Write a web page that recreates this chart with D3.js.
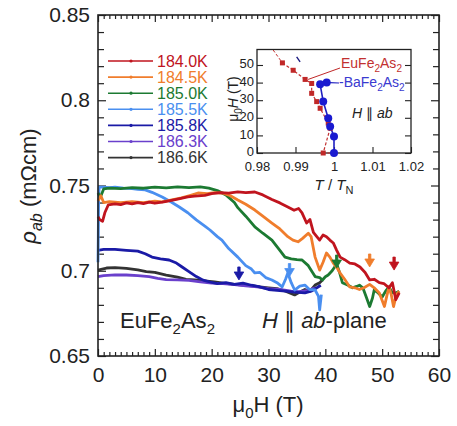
<!DOCTYPE html>
<html>
<head>
<meta charset="utf-8">
<script src="https://cdn.jsdelivr.net/npm/d3@7"></script>
<style>
  body { margin: 0; background: #fff; }
  text { font-family: "Liberation Sans", Arial, sans-serif; fill: #222; }
</style>
</head>
<body>
<div id="chart"></div>
<script>
// temperatures (legend) and colours
const temps = ["184.0K", "184.5K", "185.0K", "185.5K", "185.8K", "186.3K", "186.6K"];
const colors = ["#c0141e", "#f07d2c", "#1c7a32", "#4a8ff0", "#1a1aa6", "#6a40cc", "#333333"];

// rho_ab (mOhm cm) vs mu0H (T)
const r184_0 = [[0,0.7317],[0.3,0.7300],[0.8,0.7290],[1.2,0.7340],[1.8,0.7386],[3,0.7392],[4,0.7388],[5,0.7398],[6,0.7392],[7,0.7400],[8,0.7394],[9,0.7402],[10,0.7396],[11.3,0.7402],[12.5,0.7410],[14,0.7420],[15.8,0.7433],[17,0.7438],[18.8,0.7442],[20,0.7452],[21.5,0.7458],[23,0.7455],[24.6,0.7462],[26,0.7458],[27.6,0.7462],[29,0.7445],[30.6,0.7418],[32,0.7398],[33.4,0.7374],[34.5,0.7355],[35.3,0.7365],[35.9,0.7339],[36.7,0.7280],[37.3,0.7300],[37.9,0.7225],[38.5,0.7200],[39,0.7180],[39.6,0.7210],[40.2,0.7200],[40.8,0.7180],[41.4,0.7163],[42,0.7120],[42.6,0.7080],[43.4,0.7065],[44.3,0.7045],[45.2,0.7040],[46.1,0.7022],[47,0.6990],[47.8,0.6946],[48.6,0.6950],[49.5,0.6930],[50.3,0.6925],[51.2,0.6900],[51.8,0.6930],[52.4,0.6830],[53,0.6870]];
const r184_5 = [[0,0.7410],[0.5,0.7440],[1,0.7400],[2,0.7405],[4,0.7400],[6,0.7405],[8,0.7400],[10,0.7408],[11.3,0.7404],[13,0.7415],[14.7,0.7427],[16,0.7440],[17.6,0.7456],[19.2,0.7452],[20.5,0.7458],[22,0.7455],[23.3,0.7440],[24.6,0.7415],[26,0.7390],[27.6,0.7356],[29,0.7320],[30.6,0.7280],[32,0.7245],[33.4,0.7200],[34.3,0.7180],[35.2,0.7170],[36,0.7190],[37,0.7220],[37.5,0.7200],[38.2,0.7080],[39,0.7004],[39.6,0.7050],[40.2,0.7104],[40.8,0.7080],[41.4,0.7045],[42,0.7020],[42.6,0.6987],[43.4,0.6950],[44.3,0.6905],[45.2,0.6900],[46,0.6890],[46.8,0.6900],[47.8,0.6920],[48.6,0.6900],[49.5,0.6870],[50.4,0.6790],[50.8,0.6850],[51.2,0.6905],[51.6,0.6860],[52,0.6790],[52.5,0.6860],[53,0.6880]];
const r185_0 = [[0,0.7456],[0.4,0.7430],[1,0.7480],[2,0.7485],[4,0.7482],[6,0.7488],[8,0.7484],[10,0.7490],[12,0.7486],[14,0.7492],[16,0.7488],[18,0.7492],[19.5,0.7485],[21,0.7470],[22.5,0.7445],[24,0.7400],[24.6,0.7370],[26,0.7320],[27.6,0.7257],[29,0.7220],[30.6,0.7180],[32,0.7120],[32.9,0.7080],[34,0.7070],[35,0.7065],[35.9,0.7063],[37,0.7030],[38.2,0.6966],[39,0.6960],[39.5,0.6946],[40,0.6965],[40.5,0.6975],[41.2,0.7000],[42,0.7040],[42.5,0.6990],[43,0.6930],[44,0.6915],[44.8,0.6900],[45.5,0.6908],[46,0.6915],[46.6,0.6900],[47.2,0.6846],[47.8,0.6790],[48.3,0.6840],[48.6,0.6887],[49.3,0.6870],[50,0.6846],[50.6,0.6880],[51.2,0.6905],[51.8,0.6870],[52.4,0.6870],[53,0.6880]];
const r185_5 = [[0,0.7050],[0.05,0.7200],[0.1,0.7400],[0.2,0.7490],[1,0.7490],[2,0.7488],[3,0.7490],[4.5,0.7485],[6,0.7482],[7,0.7478],[8.3,0.7474],[9.5,0.7460],[11.3,0.7433],[12.8,0.7405],[14.3,0.7374],[15.8,0.7340],[17.3,0.7298],[18.8,0.7262],[19.7,0.7239],[21,0.7200],[21.8,0.7180],[23,0.7130],[24.6,0.7080],[26,0.7030],[27,0.7010],[27.6,0.6987],[28.5,0.6990],[29.5,0.6960],[30.6,0.6946],[31.5,0.6930],[32.4,0.6905],[33,0.6950],[33.4,0.6987],[34,0.6930],[34.6,0.6887],[35.5,0.6910],[36.4,0.6916],[37.2,0.6890],[38.2,0.6887],[38.8,0.6850],[39,0.6770],[39.3,0.6860]];
const r185_8 = [[0,0.7120],[1,0.7125],[3,0.7125],[5,0.7120],[7,0.7115],[8.3,0.7100],[9.5,0.7080],[11,0.7070],[12.5,0.7063],[13.8,0.7045],[14.8,0.7022],[16,0.6995],[17.3,0.6966],[18.5,0.6945],[19.7,0.6934],[21,0.6925],[22.5,0.6930],[24,0.6920],[25.5,0.6928],[27,0.6915],[28.5,0.6905],[30,0.6890],[31.5,0.6885],[33,0.6880],[34.5,0.6875],[36.4,0.6870],[37.5,0.6880],[38.5,0.6900],[39.2,0.6915]];
const r186_3 = [[0,0.6966],[1,0.6972],[3,0.6976],[5,0.6975],[7,0.6972],[9,0.6965],[10.5,0.6955],[12,0.6948],[14,0.6946],[16,0.6943],[18,0.6935],[20,0.6928],[22,0.6925],[24,0.6918],[26,0.6912],[28,0.6905],[30,0.6895],[32,0.6890],[34,0.6880],[35.5,0.6878],[37,0.6885],[38.2,0.6900]];
const r186_6 = [[0,0.7004],[1.5,0.7016],[3,0.7018],[5,0.7014],[7,0.7005],[8.5,0.6995],[10,0.6990],[12,0.6975],[14,0.6962],[15.5,0.6950],[17,0.6946],[18.8,0.6940],[20.5,0.6935],[22,0.6928],[24,0.6920],[25.5,0.6916],[27,0.6912],[28.5,0.6905],[30,0.6900],[31.5,0.6895],[33,0.6880],[34.6,0.6858],[35.5,0.6875],[36.4,0.6890],[37.3,0.6880],[38.2,0.6916],[39,0.6930],[39.5,0.6946]];
const series = [r184_0, r184_5, r185_0, r185_5, r185_8, r186_3, r186_6];

// arrows marking the transition field (tip position)
const arrowH   = [52.1, 47.8, 42.0, 33.7, 24.8];
const arrowRho = [0.7004, 0.7022, 0.7016, 0.6966, 0.6946];
const arrowCol = [0, 1, 2, 3, 4];

// inset: phase boundary, T/T_N vs mu0H
const euT = [0.9866, 0.9894, 0.9925, 0.9942, 0.9942, 0.9955, 0.9964, 0.9985, 0.9990, 0.9972, 1.0];
const euH = [51.2, 47.0, 41.8, 39.5, 33.9, 29.2, 25.4, 17.0, 14.1, 0, 0];
const euTail = [[0.9842, 58.5], [0.9866, 51.2]];
const baT = [0.9981, 0.9964, 0.9972, 0.9985, 0.9990, 1.0, 1.0];
const baH = [40.0, 39.0, 29.2, 19.8, 15.0, 9.4, 0];
const baTop = [[0.9903, 54.6], [0.9912, 51.8]];

const W = 457, H = 426;
const svg = d3.select("#chart").append("svg").attr("width", W).attr("height", H);

const x = d3.scaleLinear().domain([0, 60]).range([98, 439]);
const y = d3.scaleLinear().domain([0.65, 0.85]).range([356, 15]);

// ticks, all pointing inward
function ticks(axis, pos, vals, size, labels, fmt, pad) {
  const g = svg.append("g").attr("transform", pos)
    .call(axis.tickValues(vals).tickSize(-size).tickPadding(pad || 8)
      .tickFormat(labels ? fmt : ""));
  g.select(".domain").remove();
  g.selectAll("line").attr("stroke", "#222").attr("stroke-width", 1.2);
  g.selectAll("text").style("font-size", "21px").attr("fill", "#222");
  return g;
}
const xMinor = d3.range(0, 61, 1).filter(d => d % 10);
const xMajor = d3.range(0, 61, 10);
const yMinor = d3.range(0, 21).map(i => 0.65 + i * 0.01).filter((d, i) => i % 5);
const yMajor = [0.65, 0.7, 0.75, 0.8, 0.85];

ticks(d3.axisBottom(x), "translate(0,356)", xMinor, 4, false);
ticks(d3.axisBottom(x), "translate(0,356)", xMajor, 7, true, d3.format("d"), 11);
ticks(d3.axisTop(x), "translate(0,15)", xMinor, 4, false);
ticks(d3.axisTop(x), "translate(0,15)", xMajor, 7, false);
ticks(d3.axisLeft(y), "translate(98,0)", yMinor, 6, false);
ticks(d3.axisLeft(y), "translate(98,0)", yMajor, 8, true, d => d === 0.7 || d === 0.8 ? d3.format(".1f")(d) : d3.format(".2f")(d));
ticks(d3.axisRight(y), "translate(439,0)", yMinor, 6, false);
ticks(d3.axisRight(y), "translate(439,0)", yMajor, 8, false);

// data curves
const line = d3.line().x(d => x(d[0])).y(d => y(d[1]));
const order = [6, 5, 4, 3, 2, 1, 0];
order.forEach(i => {
  svg.append("path").datum(series[i]).attr("d", line)
    .attr("fill", "none").attr("stroke", colors[i])
    .attr("stroke-width", 2.8).attr("stroke-linejoin", "round");
});

// arrows
arrowH.forEach((h, k) => {
  const px = x(h), py = y(arrowRho[k]);
  svg.append("path")
    .attr("d", `M${px - 1.2},${py - 13}h2.4v5h3.6l-4.8,8l-4.8,-8h3.6z`)
    .attr("fill", colors[arrowCol[k]]).attr("stroke", colors[arrowCol[k]]).attr("stroke-width", 0.8);
});

// frame
svg.append("rect").attr("x", 98).attr("y", 15).attr("width", 341).attr("height", 341)
  .attr("fill", "none").attr("stroke", "#222").attr("stroke-width", 1.6);

// legend
const leg = svg.append("g");
temps.forEach((t, i) => {
  const ly = 61 + i * 16.1;
  leg.append("line").attr("x1", 108).attr("x2", 153).attr("y1", ly).attr("y2", ly)
    .attr("stroke", colors[i]).attr("stroke-width", 1.6);
  leg.append("circle").attr("cx", 131).attr("cy", ly).attr("r", 1.6).attr("fill", colors[i]);
  leg.append("text").attr("x", 157).attr("y", ly).attr("dy", "0.36em")
    .style("font-size", "16px").style("fill", colors[i]).text(t);
});

// axis titles
const xt = svg.append("text").attr("x", 268).attr("y", 412).attr("text-anchor", "middle").style("font-size", "22px");
xt.append("tspan").text("\u03bc");
xt.append("tspan").attr("dy", 6).style("font-size", "15px").text("0");
xt.append("tspan").attr("dy", -6).text("H (T)");

const yt = svg.append("text").attr("transform", "translate(36,186) rotate(-90)")
  .attr("text-anchor", "middle").style("font-size", "22px");
yt.append("tspan").style("font-style", "italic").text("\u03c1");
yt.append("tspan").attr("dy", 6).style("font-size", "16px").style("font-style", "italic").text("ab");
yt.append("tspan").attr("dy", -6).text(" (m\u03a9cm)");

// annotations
const ea = svg.append("text").attr("x", 120).attr("y", 328).style("font-size", "22px");
ea.append("tspan").text("EuFe");
ea.append("tspan").attr("dy", 6).style("font-size", "15px").text("2");
ea.append("tspan").attr("dy", -6).text("As");
ea.append("tspan").attr("dy", 6).style("font-size", "15px").text("2");

const hp = svg.append("text").attr("x", 262).attr("y", 328).style("font-size", "22px");
hp.append("tspan").style("font-style", "italic").text("H");
hp.append("tspan").text(" \u2225 ");
hp.append("tspan").style("font-style", "italic").text("ab");
hp.append("tspan").text("-plane");

// ---------- inset ----------
const ix = d3.scaleLinear().domain([0.98, 1.02]).range([257, 411]);
const iy = d3.scaleLinear().domain([0, 58.8]).range([153, 49.5]);

svg.append("rect").attr("x", 257).attr("y", 49.5).attr("width", 154).attr("height", 103.5)
  .attr("fill", "#fff").attr("stroke", "#222").attr("stroke-width", 1.3);

function iticks(axis, pos, vals, labels, fmt, pad) {
  const g = svg.append("g").attr("transform", pos)
    .call(axis.tickValues(vals).tickSize(-6).tickPadding(pad).tickFormat(labels ? fmt : ""));
  g.select(".domain").remove();
  g.selectAll("line").attr("stroke", "#222").attr("stroke-width", 1.1);
  g.selectAll("text").style("font-size", "13px").attr("fill", "#222");
  return g;
}
const ixv = [0.98, 0.99, 1.0, 1.01, 1.02];
const iyv = [0, 10, 20, 30, 40, 50];
iticks(d3.axisBottom(ix), "translate(0,153)", ixv, true, d => d === 1 ? "1" : d3.format(".2f")(d), 9);
iticks(d3.axisLeft(iy), "translate(257,0)", iyv, true, d3.format("d"), 3)
  .selectAll("text").attr("dy", "0.2em");
iticks(d3.axisRight(iy), "translate(411,0)", iyv, false, null, 3);

const iline = d3.line().x(d => ix(d[0])).y(d => iy(d[1]));
const euPts = euT.map((t, i) => [t, euH[i]]);
const baPts = baT.map((t, i) => [t, baH[i]]);

svg.append("path").datum(euTail).attr("d", iline).attr("fill", "none")
  .attr("stroke", "#c23030").attr("stroke-width", 1).attr("stroke-dasharray", "3,2");
svg.append("path").datum(euPts).attr("d", iline).attr("fill", "none")
  .attr("stroke", "#c23030").attr("stroke-width", 1.2).attr("stroke-dasharray", "3,2");
svg.append("path").datum(baPts).attr("d", iline).attr("fill", "none")
  .attr("stroke", "#2020c0").attr("stroke-width", 1.6);
svg.append("path").datum(baTop).attr("d", iline).attr("fill", "none")
  .attr("stroke", "#1a1a80").attr("stroke-width", 1.4);

svg.selectAll(".eu").data(euPts).enter().append("rect").attr("class", "eu")
  .attr("x", d => ix(d[0]) - 2.5).attr("y", d => iy(d[1]) - 2.5)
  .attr("width", 5).attr("height", 5).attr("fill", "#c02828");
svg.selectAll(".ba").data(baPts).enter().append("circle").attr("class", "ba")
  .attr("cx", d => ix(d[0])).attr("cy", d => iy(d[1])).attr("r", 4).attr("fill", "#1a1ad0");

// label pointers
svg.append("line").attr("x1", 340).attr("y1", 68).attr("x2", ix(0.9925) + 3).attr("y2", iy(41.8))
  .attr("stroke", "#c02828").attr("stroke-width", 1);
svg.append("line").attr("x1", 339).attr("y1", 83).attr("x2", ix(0.9981) + 3).attr("y2", iy(40))
  .attr("stroke", "#2020c0").attr("stroke-width", 1.2);

function chem(xx, yy, base, sub, col) {
  const t = svg.append("text").attr("x", xx).attr("y", yy).style("font-size", "14px").style("fill", col);
  t.append("tspan").text(base[0]);
  t.append("tspan").attr("dy", 4).style("font-size", "10px").text(sub);
  t.append("tspan").attr("dy", -4).text(base[1]);
  t.append("tspan").attr("dy", 4).style("font-size", "10px").text(sub);
}
chem(341, 68, ["EuFe", "As"], "2", "#c23030");
chem(339, 87, ["-BaFe", "As"], "2", "#3a3ad0");

const hab = svg.append("text").attr("x", 352).attr("y", 118).style("font-size", "14px");
hab.append("tspan").style("font-style", "italic").text("H");
hab.append("tspan").text(" \u2225 ");
hab.append("tspan").style("font-style", "italic").text("ab");

const ixl = svg.append("text").attr("x", 334).attr("y", 190).attr("text-anchor", "middle").style("font-size", "15px");
ixl.append("tspan").style("font-style", "italic").text("T");
ixl.append("tspan").text(" / ");
ixl.append("tspan").style("font-style", "italic").text("T");
ixl.append("tspan").attr("dy", 4).style("font-size", "11px").text("N");

const iyl = svg.append("text").attr("transform", "translate(238,99) rotate(-90)")
  .attr("text-anchor", "middle").style("font-size", "14px");
iyl.append("tspan").text("\u03bc");
iyl.append("tspan").attr("dy", 4).style("font-size", "10px").text("0");
iyl.append("tspan").attr("dy", -4).style("font-style", "italic").text("H");
iyl.append("tspan").text(" (T)");
</script>
</body>
</html>
